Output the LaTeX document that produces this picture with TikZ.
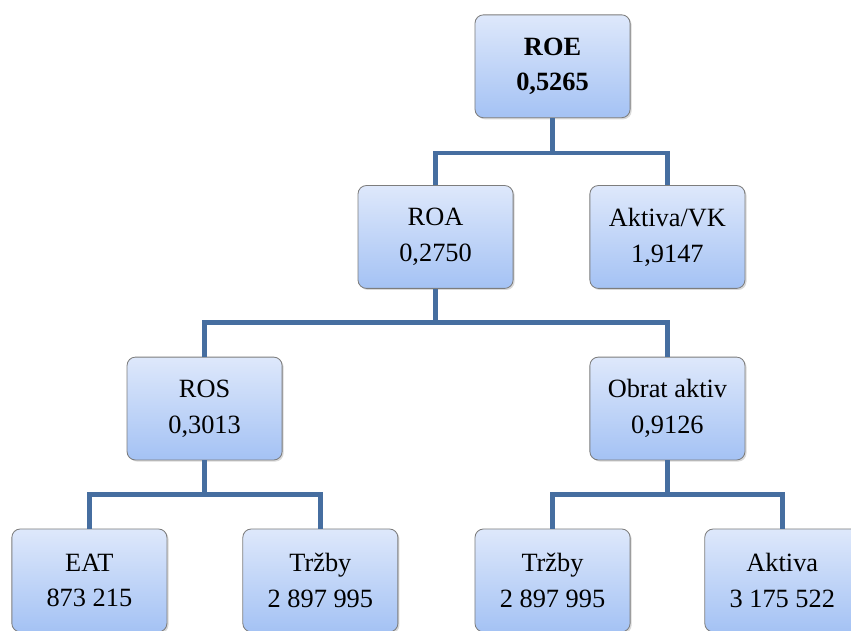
\documentclass[tikz,border=0pt]{standalone}
\usepackage{fontspec}
\setmainfont{Liberation Serif}
\newfontfamily\boxfont{Liberation Serif}
\usepackage{tikz}
\usetikzlibrary{calc,shadows}

\definecolor{boxtop}{RGB}{222,232,251}
\definecolor{boxbot}{RGB}{164,194,244}
\definecolor{boxline}{RGB}{125,125,125}
\definecolor{linkblue}{RGB}{70,110,160}

\tikzset{
	box/.style={draw=boxline, line width=0.8pt, rounded corners=8pt,
		top color=boxtop, bottom color=boxbot,
		minimum width=5.17cm, minimum height=3.43cm, align=center,
		font=\boxfont\fontsize{25}{34}\selectfont,
		drop shadow={shadow xshift=1.5pt, shadow yshift=-1.5pt, opacity=0.3}},
	link/.style={draw=linkblue, line width=4.7pt}
}

\begin{document}
\begin{tikzpicture}
		\useasboundingbox (0, 0) rectangle (28.37, 21.03);

		\draw (18.42, 18.82) node[box] (roe)    {\textbf{ROE}\\\textbf{0,5265}};
		\draw (14.52, 13.13) node[box] (roa)    {ROA\\0,2750};
		\draw (22.25, 13.13) node[box] (akvk)   {Aktiva/VK\\1,9147};
		\draw (6.82, 7.41) node[box] (ros)      {ROS\\0,3013};
		\draw (22.25, 7.41) node[box] (obrat)   {Obrat aktiv\\0,9126};
		\draw (2.98, 1.68) node[box] (eat)      {EAT\\873 215};
		\draw (10.68, 1.68) node[box] (trzbyA)  {Tržby\\2 897 995};
		\draw (18.42, 1.68) node[box] (trzbyB)  {Tržby\\2 897 995};
		\draw (26.08, 1.68) node[box] (aktiva)  {Aktiva\\3 175 522};

		\coordinate (j1) at (18.42, 15.93);
		\coordinate (j2) at (14.52, 10.27);
		\coordinate (j3) at (6.82, 4.55);
		\coordinate (j4) at (22.25, 4.55);

		\draw[link] (roe.south) -- (j1);
		\draw[link] (roa.north) |- (j1) -| (akvk.north);
		\draw[link] (roa.south) -- (j2);
		\draw[link] (ros.north) |- (j2) -| (obrat.north);
		\draw[link] (ros.south) -- (j3);
		\draw[link] (eat.north) |- (j3) -| (trzbyA.north);
		\draw[link] (obrat.south) -- (j4);
		\draw[link] (trzbyB.north) |- (j4) -| (aktiva.north);
	\end{tikzpicture}
\end{document}
